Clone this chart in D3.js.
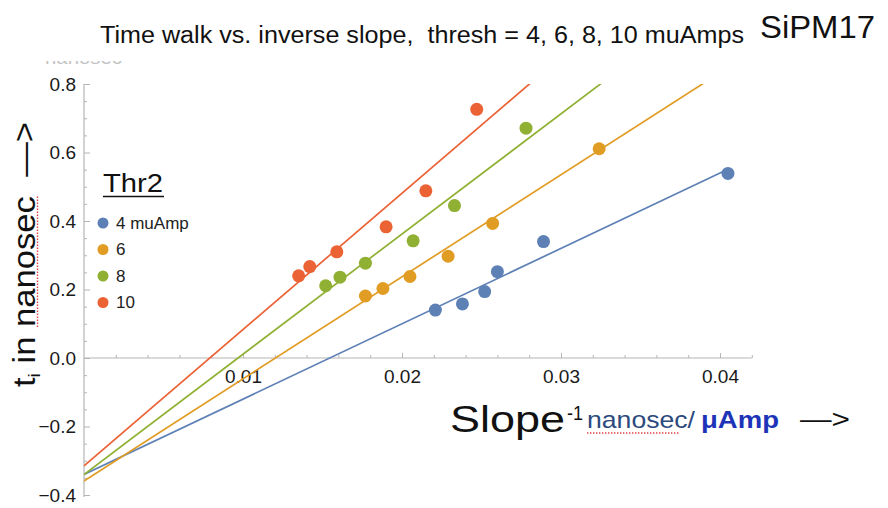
<!DOCTYPE html>
<html>
<head>
<meta charset="utf-8">
<script src="https://cdn.jsdelivr.net/npm/d3@7"></script>
<style>
body { margin: 0; background: #fff; }
svg { font-family: "Liberation Sans", Arial, sans-serif; }
text { white-space: pre; }
</style>
</head>
<body>
<div id="chart"></div>
<script>
// series
var seriesNames = ["4 muAmp", "6", "8", "10"];
var colors = ["#5e81b5", "#e19c24", "#8fb032", "#eb6235"];

var x4  = [0.0221, 0.0238, 0.0252, 0.0260, 0.0289, 0.0405];
var y4  = [0.140, 0.158, 0.194, 0.252, 0.340, 0.539];
var x6  = [0.0177, 0.0188, 0.0205, 0.0229, 0.0257, 0.0324];
var y6  = [0.181, 0.203, 0.238, 0.297, 0.393, 0.611];
var x8  = [0.0152, 0.0161, 0.0177, 0.0207, 0.0233, 0.0278];
var y8  = [0.211, 0.236, 0.277, 0.342, 0.445, 0.671];
var x10 = [0.0135, 0.0142, 0.0159, 0.0190, 0.0215, 0.0247];
var y10 = [0.240, 0.267, 0.310, 0.383, 0.488, 0.726];

// linear fits  t = a + b * s
var fitIntercept = [-0.340, -0.359, -0.340, -0.315];
var fitSlope = [22.0, 29.8, 35.1, 39.8];
var fitRange = [0, 0.0405];

var xTicks = [0.01, 0.02, 0.03, 0.04];
var yTicks = [-0.4, -0.2, 0.0, 0.2, 0.4, 0.6, 0.8];

var W = 888, H = 508;

var xs = [x4, x6, x8, x10], ys = [y4, y6, y8, y10];
var DATA = seriesNames.map(function(n, i) {
	return { name: n, color: colors[i], a: fitIntercept[i], b: fitSlope[i],
		pts: xs[i].map(function(v, j) { return { x: v, y: ys[i][j] }; }) };
});

var x = d3.scaleLinear().domain([0, 0.04]).range([84, 720]);
var y = d3.scaleLinear().domain([-0.4, 0.8]).range([495, 84]);

var svg = d3.select("#chart").append("svg")
	.attr("width", W)
	.attr("height", H);

var defs = svg.append("defs");
defs.append("clipPath").attr("id", "plotclip")
	.append("rect")
	.attr("x", x(0)).attr("y", y(0.8))
	.attr("width", x(0.042) - x(0)).attr("height", y(-0.41) - y(0.8));
defs.append("clipPath").attr("id", "cutclip")
	.append("rect")
	.attr("x", 0).attr("y", 61).attr("width", 200).attr("height", 3.5);

// title
svg.append("text")
	.attr("x", 100).attr("y", 43)
	.attr("textLength", 644).attr("lengthAdjust", "spacingAndGlyphs")
	.style("font-size", "23px").style("fill", "#111")
	.text("Time walk vs. inverse slope,  thresh = 4, 6, 8, 10 muAmps");
svg.append("text")
	.attr("x", 760).attr("y", 38)
	.attr("textLength", 115).attr("lengthAdjust", "spacingAndGlyphs")
	.style("font-size", "32px").style("fill", "#111")
	.text("SiPM17");

// faint clipped label left over at the top
svg.append("text")
	.attr("x", 45).attr("y", 64)
	.attr("clip-path", "url(#cutclip)")
	.attr("textLength", 77).attr("lengthAdjust", "spacingAndGlyphs")
	.style("font-size", "18px").style("fill", "#c4c4c4")
	.text("nanosec");

// axes
var axisColor = "#b5b5b5";
var yMinor = d3.range(-0.4, 0.8001, 0.05).filter(function(v) { return Math.round(v * 100) % 20 != 0; });
var xMinor = d3.range(0.002, 0.0421, 0.002).filter(function(v) { return Math.round(v * 1000) % 10 != 0; });

var yAxis = d3.axisLeft(y).tickValues(yTicks).tickSize(-6).tickPadding(8)
	.tickFormat(function(d) { return d < 0 ? "\u2212" + Math.abs(d).toFixed(1) : d.toFixed(1); });
var yAxisMinor = d3.axisLeft(y).tickValues(yMinor).tickSize(-3).tickFormat("");
var xAxis = d3.axisBottom(x).tickValues(xTicks).tickSize(-5).tickPadding(12)
	.tickFormat(d3.format(".2f"));
var xAxisMinor = d3.axisBottom(x).tickValues(xMinor).tickSize(-3).tickFormat("");

svg.append("g").attr("transform", "translate(" + x(0) + ",0)").call(yAxis);
svg.append("g").attr("transform", "translate(" + x(0) + ",0)").call(yAxisMinor);
svg.append("g").attr("transform", "translate(0," + y(0) + ")").call(xAxis);
svg.append("g").attr("transform", "translate(0," + y(0) + ")").call(xAxisMinor);

svg.selectAll(".domain").remove();
svg.selectAll(".tick line").attr("stroke", axisColor);
svg.selectAll(".tick text").style("font-size", "19px").style("fill", "#1a1a1a")
	.style("font-family", "'Liberation Sans', Arial, sans-serif");

svg.append("line")
	.attr("x1", x(0)).attr("x2", x(0)).attr("y1", y(0.8)).attr("y2", y(-0.406))
	.attr("stroke", axisColor).attr("stroke-width", 1.2);
svg.append("line")
	.attr("x1", x(0)).attr("x2", x(0.042)).attr("y1", y(0)).attr("y2", y(0))
	.attr("stroke", axisColor).attr("stroke-width", 1.2);

// fit lines
var fitLine = d3.line()
	.x(function(d) { return x(d[0]); })
	.y(function(d) { return y(d[1]); });

svg.append("g").attr("clip-path", "url(#plotclip)")
	.selectAll("path.fit")
	.data(DATA)
	.enter().append("path")
	.attr("class", "fit")
	.attr("fill", "none")
	.attr("stroke", function(d) { return d.color; })
	.attr("stroke-width", 1.7)
	.attr("d", function(d) {
		return fitLine(fitRange.map(function(s) { return [s, d.a + d.b * s]; }));
	});

// points
svg.append("g").selectAll("g.series")
	.data(DATA)
	.enter().append("g")
	.attr("fill", function(d) { return d.color; })
	.selectAll("circle")
	.data(function(d) { return d.pts; })
	.enter().append("circle")
	.attr("cx", function(d) { return x(d.x); })
	.attr("cy", function(d) { return y(d.y); })
	.attr("r", 6.5);

// legend
var leg = svg.append("g").attr("transform", "translate(103,0)");
leg.append("text")
	.attr("x", 0).attr("y", 192)
	.attr("textLength", 60).attr("lengthAdjust", "spacingAndGlyphs")
	.style("font-size", "26px").style("fill", "#111")
	.text("Thr2");
leg.append("line")
	.attr("x1", 0).attr("x2", 61).attr("y1", 196.5).attr("y2", 196.5)
	.attr("stroke", "#111").attr("stroke-width", 1.5);
var items = leg.selectAll("g.item")
	.data(DATA)
	.enter().append("g")
	.attr("transform", function(d, i) { return "translate(0," + (223 + i * 26.5) + ")"; });
items.append("circle").attr("cx", 0).attr("cy", 0).attr("r", 5.5)
	.attr("fill", function(d) { return d.color; });
items.append("text").attr("x", 13).attr("y", 0).attr("dy", "0.35em")
	.style("font-size", "17px").style("fill", "#222")
	.text(function(d) { return d.name; });

// y axis title
var ytr = "translate(35,387) rotate(-90)";
var yt = svg.append("text")
	.attr("transform", ytr)
	.attr("textLength", 265).attr("lengthAdjust", "spacingAndGlyphs")
	.style("font-size", "31px").style("fill", "#111");
yt.append("tspan").text("t");
yt.append("tspan").attr("dy", 5).style("font-size", "17px").text("i");
yt.append("tspan").attr("dy", -5).text(" in ");
yt.append("tspan").attr("class", "squig").text("nanosec");
yt.append("tspan").text("  \u2014>");
var sq = yt.select(".squig").node();
svg.append("line")
	.attr("transform", ytr)
	.attr("x1", sq.getStartPositionOfChar(0).x).attr("x2", sq.getEndPositionOfChar(6).x)
	.attr("y1", 2.5).attr("y2", 2.5)
	.attr("stroke", "#e04040").attr("stroke-width", 1.4).attr("stroke-dasharray", "1.4,1.6");

// x axis title
svg.append("text").attr("x", 450).attr("y", 432)
	.attr("textLength", 115).attr("lengthAdjust", "spacingAndGlyphs")
	.style("font-size", "37px").style("fill", "#111").text("Slope");
svg.append("text").attr("x", 567).attr("y", 420)
	.attr("textLength", 16).attr("lengthAdjust", "spacingAndGlyphs")
	.style("font-size", "21px").style("fill", "#111").text("-1");
svg.append("text").attr("x", 587).attr("y", 428)
	.attr("textLength", 108).attr("lengthAdjust", "spacingAndGlyphs")
	.style("font-size", "24px").style("fill", "#2c4a7e").text("nanosec/");
svg.append("text").attr("x", 701).attr("y", 428)
	.attr("textLength", 78).attr("lengthAdjust", "spacingAndGlyphs")
	.style("font-size", "23px").style("fill", "#1d34b8").style("font-weight", "bold").text("\u03bcAmp");
svg.append("line")
	.attr("x1", 587).attr("x2", 680)
	.attr("y1", 433).attr("y2", 433)
	.attr("stroke", "#e04040").attr("stroke-width", 1.4).attr("stroke-dasharray", "1.4,1.6");
svg.append("text").attr("x", 800).attr("y", 428)
	.attr("textLength", 50).attr("lengthAdjust", "spacingAndGlyphs")
	.style("font-size", "26px").style("fill", "#111")
	.text("\u2014>");
</script>
</body>
</html>
